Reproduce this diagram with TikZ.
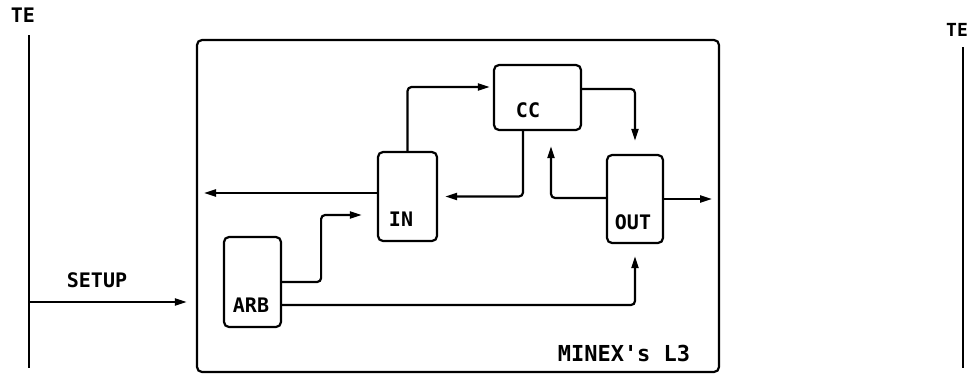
\documentclass[tikz,border=0pt]{standalone}
\usepackage{fontspec}
\setmonofont{DejaVu Sans Mono}
\usetikzlibrary{arrows.meta}
\begin{document}
\begin{tikzpicture}[x=1pt,y=-1pt,
  lbl/.style={font=\ttfamily\bfseries\fontsize{20}{20}\selectfont, inner sep=0pt},
  blk/.style={draw, line width=2.2pt, rounded corners=5pt, inner sep=0pt},
  wire/.style={line width=2.2pt, rounded corners=4pt},
  arr/.style={wire, -{Triangle[length=12pt,width=7pt]}}
]
\useasboundingbox (0,0) rectangle (973,383);
% TE lines
\node[lbl] (teL) at (23,15) {TE};
\coordinate (teLtop) at (29,35);
\coordinate (teLbot) at (29,368);
\draw[line width=2.2pt] (teLtop) -- (teLbot);
\node[lbl,font=\ttfamily\bfseries\fontsize{18}{18}\selectfont] (teR) at (957,30) {TE};
\coordinate (teRtop) at (963,47);
\coordinate (teRbot) at (963,368);
\draw[line width=2.2pt] (teRtop) -- (teRbot);
% main box
\node[blk, minimum width=522pt, minimum height=332pt] (l3) at (458,206) {};
\node[lbl,font=\ttfamily\bfseries\fontsize{22}{22}\selectfont] (l3lbl) at (624,353) {MINEX's L3};
% blocks
\node[blk, minimum width=59pt, minimum height=89pt] (in) at (407.5,196.5) {};
\node[lbl] (inlbl) at (401,219) {IN};
\node[blk, minimum width=87pt, minimum height=65pt] (cc) at (537.5,97.5) {};
\node[lbl] (cclbl) at (528,110) {CC};
\node[blk, minimum width=56pt, minimum height=88pt] (out) at (635,199) {};
\node[lbl] (outlbl) at (633,222) {OUT};
\node[blk, minimum width=57pt, minimum height=90pt] (arb) at (252.5,282) {};
\node[lbl] (arblbl) at (251,305) {ARB};
% SETUP
\coordinate (setupS) at (29,302);
\draw[arr, shorten >=9pt] (setupS) -- (setupS -| l3.west);
\node[lbl] (setuplbl) at (97,280) {SETUP};
% free ends
\coordinate (inL) at (204,193);
\coordinate (outR) at (712,199);
% connectors
\draw[arr, shorten >=3pt] (in.north) |- ([yshift=10.5pt]cc.west);
\draw[arr] ([yshift=3.5pt]in.west) -- (inL);
\draw[arr, shorten >=7pt] ([xshift=-14.5pt]cc.south) |- (in.east);
\draw[arr, shorten >=13pt] ([yshift=8.5pt]cc.east) -| (out.north);
\draw[arr, shorten >=15pt] ([yshift=1pt]out.west) -| ([xshift=13.5pt]cc.south);
\draw[arr] (out.east) -- (outR);
\draw[arr, shorten >=15pt] (arb.east) -- ++(39,0) |- ([yshift=-18.5pt]in.west);
\draw[arr, shorten >=12pt] ([yshift=-23pt]arb.east) -| (out.south);
\end{tikzpicture}
\end{document}
